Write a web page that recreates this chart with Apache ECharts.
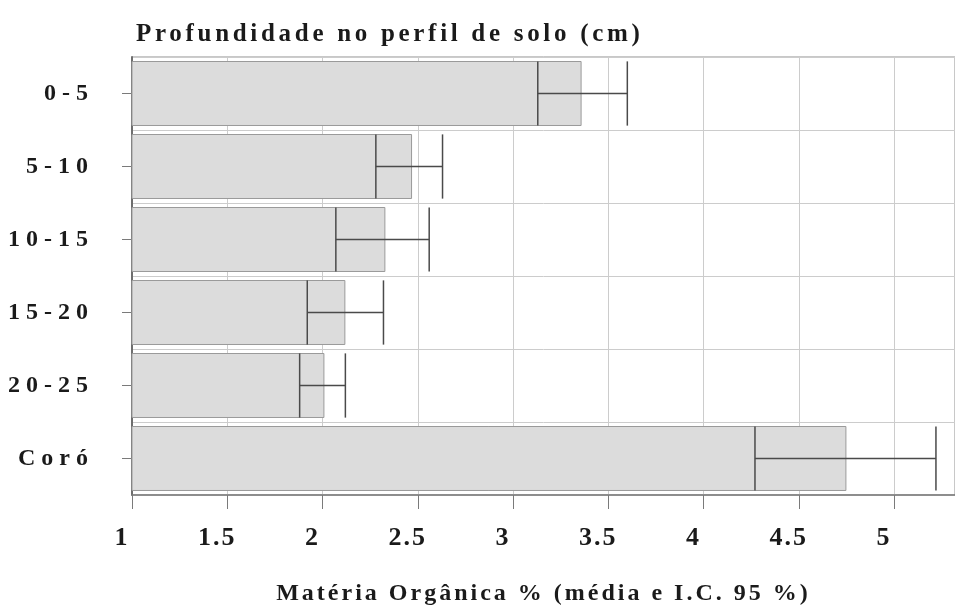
<!DOCTYPE html>
<html>
<head>
<meta charset="utf-8">
<script src="https://cdn.jsdelivr.net/npm/echarts@6/dist/echarts.min.js"></script>
<style>
  html, body { margin: 0; padding: 0; background: #fff; }
  #chart { width: 955px; height: 611px; }
</style>
</head>
<body>
<div id="chart"></div>
<script>
// ---- data ----
const categories = ['0-5', '5-10', '10-15', '15-20', '20-25', 'Coró'];
const means  = [3.36, 2.47, 2.33, 2.12, 2.01, 4.75];
const ciLow  = [3.13, 2.28, 2.07, 1.92, 1.88, 4.27];
const ciHigh = [3.60, 2.63, 2.56, 2.32, 2.12, 5.22];
const titleText = 'Profundidade no perfil de solo (cm)';
const axisName = 'Matéria Orgânica % (média e I.C. 95 %)';

const errData = categories.map((c, i) => [i, ciLow[i], ciHigh[i]]);

// letter spacing (tracking) of the reference's texts, applied when the canvas draws them
function spacingFor(s) {
  if (s === titleText) return 3.7;
  if (categories.indexOf(s) >= 0) return 6;
  if (s === axisName) return 3;
  if (/^[0-9.]+$/.test(s)) return 2;
  return 0;
}
(function () {
  const proto = CanvasRenderingContext2D.prototype;
  const orig = proto.fillText;
  proto.fillText = function (text, x, y, mw) {
    const ls = spacingFor(String(text));
    if (ls && 'letterSpacing' in this) {
      const prev = this.letterSpacing;
      this.letterSpacing = ls + 'px';
      if (mw === undefined) orig.call(this, text, x, y); else orig.call(this, text, x, y, mw);
      this.letterSpacing = prev;
    } else {
      if (mw === undefined) orig.call(this, text, x, y); else orig.call(this, text, x, y, mw);
    }
  };
})();

const serif = '"Liberation Serif", "Times New Roman", "DejaVu Serif", serif';
const chart = echarts.init(document.getElementById('chart'), null, { renderer: 'canvas' });

chart.setOption({
  backgroundColor: '#ffffff',
  animation: false,
  title: {
    text: titleText,
    left: 131,
    top: 17,
    textStyle: { fontFamily: serif, fontWeight: 'bold', fontSize: 25, color: '#1a1a1a' }
  },
  grid: {
    left: 132, top: 57, right: -10, bottom: 115,
    show: true, borderColor: '#909090', borderWidth: 1, backgroundColor: 'transparent'
  },
  xAxis: {
    type: 'value',
    min: 1, max: 5.32, interval: 0.5,
    name: axisName,
    nameLocation: 'middle',
    nameGap: 87,
    nameTextStyle: { fontFamily: serif, fontWeight: 'bold', fontSize: 24, color: '#1a1a1a' },
    axisLine: { show: true, lineStyle: { color: '#7a7a7a', width: 1.5 } },
    axisTick: { show: true, length: 14, lineStyle: { color: '#7a7a7a', width: 1 } },
    axisLabel: {
      fontFamily: serif, fontWeight: 'bold', fontSize: 26, color: '#1a1a1a',
      margin: 30, showMaxLabel: false, padding: [0, 20, 0, 0]
    },
    splitLine: { show: true, lineStyle: { color: '#cccccc', width: 1 } }
  },
  yAxis: {
    type: 'category',
    data: categories,
    inverse: true,
    axisLine: { show: true, lineStyle: { color: '#6e6e6e', width: 2 } },
    axisTick: { show: true, alignWithLabel: true, length: 10, lineStyle: { color: '#7a7a7a' } },
    axisLabel: { fontFamily: serif, fontWeight: 'bold', fontSize: 24, color: '#1a1a1a', margin: 38 },
    splitLine: { show: true, lineStyle: { color: '#cccccc', width: 1 } }
  },
  series: [
    {
      type: 'bar',
      data: means,
      barCategoryGap: '11%',
      itemStyle: { color: '#dcdcdc', borderColor: '#9a9a9a', borderWidth: 1 },
      z: 2
    },
    {
      type: 'custom',
      data: errData,
      encode: { x: [1, 2], y: 0 },
      z: 3,
      renderItem: function (params, api) {
        const cat = api.value(0);
        const lo = api.coord([api.value(1), cat]);
        const hi = api.coord([api.value(2), cat]);
        const h = api.size([0, 1])[1] * 0.88;
        const st = { stroke: '#4a4a4a', lineWidth: 1.5, fill: null };
        return {
          type: 'group',
          children: [
            { type: 'line', shape: { x1: lo[0], y1: lo[1], x2: hi[0], y2: hi[1] }, style: st },
            { type: 'line', shape: { x1: lo[0], y1: lo[1] - h / 2, x2: lo[0], y2: lo[1] + h / 2 }, style: st },
            { type: 'line', shape: { x1: hi[0], y1: hi[1] - h / 2, x2: hi[0], y2: hi[1] + h / 2 }, style: st }
          ]
        };
      }
    }
  ]
});
</script>
</body>
</html>
